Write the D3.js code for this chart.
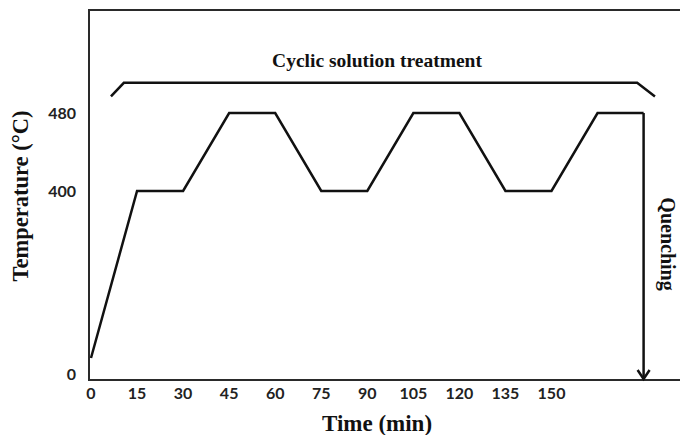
<!DOCTYPE html>
<html>
<head>
<meta charset="utf-8">
<script src="https://cdn.jsdelivr.net/npm/d3@7"></script>
<style>
  body { margin: 0; background: #fff; }
  svg { display: block; }
</style>
</head>
<body>
<svg id="chart" width="680" height="435"></svg>
<script>
// temperature profile (time in min, temperature in °C)
const times = [0, 15, 30, 45, 60, 75, 90, 105, 120, 135, 150, 165, 180];
const temps = [35, 400, 400, 480, 480, 400, 400, 480, 480, 400, 400, 480, 480];

const xTicks = [0, 15, 30, 45, 60, 75, 90, 105, 120, 135, 150];
const yTicks = [0, 400, 480];

// bracket over the cyclic treatment (time, temperature units)
const bracketTimes = [6.5, 10.7, 177.9, 183.7];
const bracketTemps = [497, 511, 511, 497];

const quenchTime = 180;

const svg = d3.select('#chart');
const frame = {left: 89, top: 10, right: 680, bottom: 380};

// x axis is linear, y axis is broken between 0 and 400
const x = d3.scaleLinear()
    .domain([0, 180])
    .range([91, 643.6]);

const y = d3.scaleLinear()
    .domain([0, 400, 480])
    .range([374, 191, 113]);

// frame: left, top and bottom lines
svg.append('path')
    .attr('d', `M${frame.right},${frame.top}H${frame.left}V${frame.bottom}H${frame.right}`)
    .attr('fill', 'none')
    .attr('stroke', '#2a2a2a')
    .attr('stroke-width', 2);

// tick labels
svg.append('g')
    .selectAll('text')
    .data(xTicks)
    .enter().append('text')
    .attr('x', d => x(d))
    .attr('y', 393)
    .attr('dy', '0.35em')
    .attr('text-anchor', 'middle')
    .style('font-family', 'Lato, "Open Sans", sans-serif')
    .style('font-weight', 'bold')
    .style('font-size', '16px')
    .attr('fill', '#222')
    .text(d => d);

svg.append('g')
    .selectAll('text')
    .data(yTicks)
    .enter().append('text')
    .attr('x', 76)
    .attr('y', d => y(d))
    .attr('dy', '0.35em')
    .attr('text-anchor', 'end')
    .style('font-family', 'Lato, "Open Sans", sans-serif')
    .style('font-weight', 'bold')
    .style('font-size', '16px')
    .attr('fill', '#222')
    .text(d => d);

// temperature curve
const pts = times.map((t, i) => [t, temps[i]]);
svg.append('path')
    .datum(pts)
    .attr('d', d3.line().x(d => x(d[0])).y(d => y(d[1])))
    .attr('fill', 'none')
    .attr('stroke', '#111')
    .attr('stroke-width', 2.5)
    .attr('stroke-linejoin', 'miter');

// bracket
const bpts = bracketTimes.map((t, i) => [t, bracketTemps[i]]);
svg.append('path')
    .datum(bpts)
    .attr('d', d3.line().x(d => x(d[0])).y(d => y(d[1])))
    .attr('fill', 'none')
    .attr('stroke', '#111')
    .attr('stroke-width', 2.5);

svg.append('text')
    .attr('x', 377)
    .attr('y', 60)
    .attr('dy', '0.35em')
    .attr('text-anchor', 'middle')
    .style('font-family', '"Liberation Serif", "Times New Roman", serif')
    .style('font-weight', 'bold')
    .style('font-size', '19.5px')
    .attr('fill', '#111')
    .text('Cyclic solution treatment');

// quenching arrow
const qx = x(quenchTime);
svg.append('line')
    .attr('x1', qx).attr('x2', qx)
    .attr('y1', y(480)).attr('y2', frame.bottom - 1)
    .attr('stroke', '#111')
    .attr('stroke-width', 2.5);
svg.append('path')
    .attr('d', `M${qx - 6},${frame.bottom - 10}L${qx},${frame.bottom - 1}L${qx + 6},${frame.bottom - 10}`)
    .attr('fill', 'none')
    .attr('stroke', '#111')
    .attr('stroke-width', 2.5);

svg.append('text')
    .attr('transform', 'translate(668,244) rotate(90)')
    .attr('dy', '0.35em')
    .attr('text-anchor', 'middle')
    .style('font-family', '"Liberation Serif", "Times New Roman", serif')
    .style('font-weight', 'bold')
    .style('font-size', '20px')
    .attr('fill', '#111')
    .text('Quenching');

// axis titles
svg.append('text')
    .attr('x', 377)
    .attr('y', 423)
    .attr('dy', '0.35em')
    .attr('text-anchor', 'middle')
    .style('font-family', '"Liberation Serif", "Times New Roman", serif')
    .style('font-weight', 'bold')
    .style('font-size', '23px')
    .attr('fill', '#111')
    .text('Time (min)');

svg.append('text')
    .attr('transform', 'translate(20,196) rotate(-90)')
    .attr('dy', '0.35em')
    .attr('text-anchor', 'middle')
    .style('font-family', '"Liberation Serif", "Times New Roman", serif')
    .style('font-weight', 'bold')
    .style('font-size', '22.5px')
    .attr('fill', '#111')
    .text('Temperature (°C)');
</script>
</body>
</html>
